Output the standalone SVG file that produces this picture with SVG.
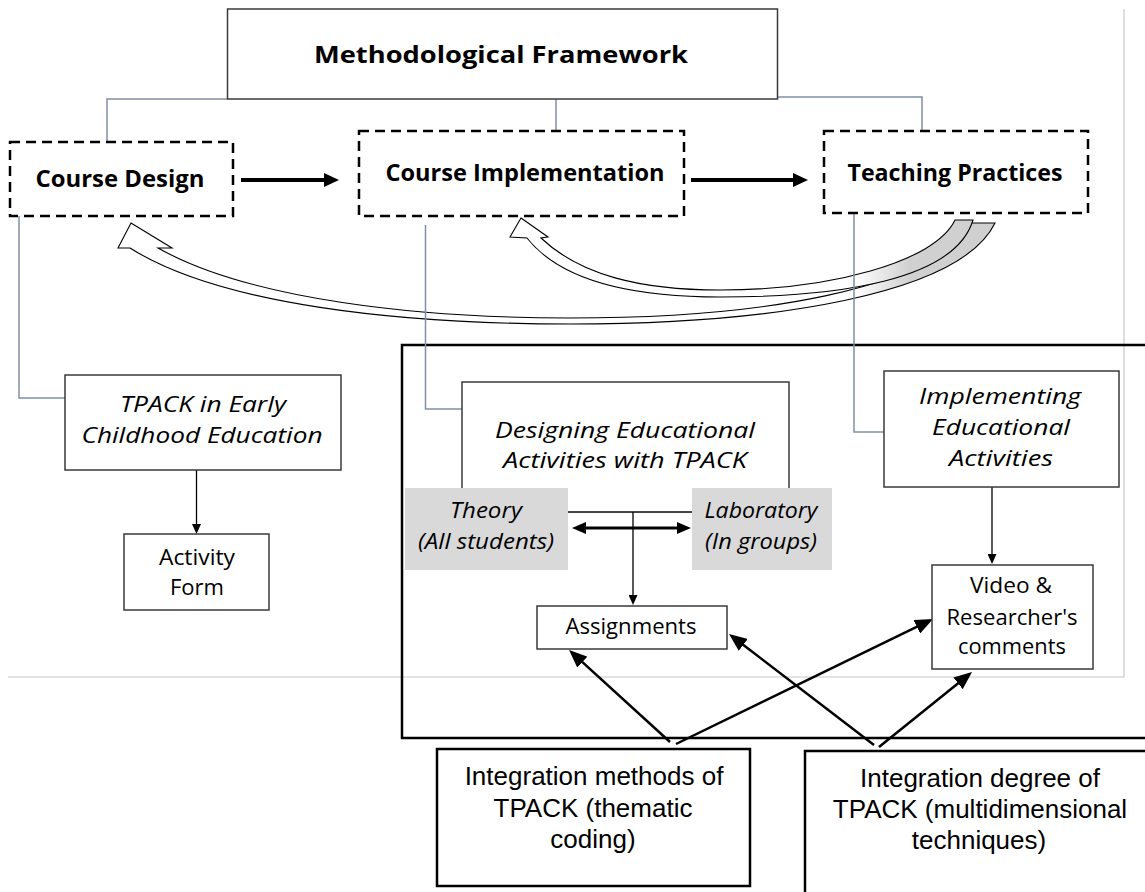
<svg xmlns="http://www.w3.org/2000/svg" width="1145" height="892" viewBox="0 0 1145 892">
<defs>
<style>
.box{fill:#fff;stroke:#3a3a3a;stroke-width:1.5}
.dash{fill:#fff;stroke:#000;stroke-width:2.5;stroke-dasharray:10 6}
.grey{fill:#d9d9d9;stroke:none}
.thick{fill:none;stroke:#000;stroke-width:2.5}
.conn{fill:none;stroke:#8090a8;stroke-width:1.5}
.frame{fill:none;stroke:#c8c8c8;stroke-width:1.2}
.calB{font-family:"Open Sans","Liberation Sans",sans-serif;font-weight:700;font-size:23px;fill:#000;text-anchor:middle}
.calI{font-family:"Open Sans","Liberation Sans",sans-serif;font-style:italic;font-size:21px;fill:#000;text-anchor:middle}
.cal{font-family:"Open Sans","Liberation Sans",sans-serif;font-size:21px;fill:#000;text-anchor:middle}
.ar{font-family:"Liberation Sans",Arial,sans-serif;font-size:26px;fill:#000;text-anchor:middle}
.band{stroke:#000;stroke-width:1.1;fill:url(#bg)}
</style>
<linearGradient id="bg" gradientUnits="userSpaceOnUse" x1="855" y1="0" x2="910" y2="0">
<stop offset="0" stop-color="#fff"/><stop offset="1" stop-color="#d0d0d0"/>
</linearGradient>
<marker id="mThick" markerUnits="userSpaceOnUse" markerWidth="15" markerHeight="14" refX="1" refY="7" orient="auto"><path d="M0,0 L15,7 L0,14 z" fill="#000"/></marker>
<marker id="mMed" markerUnits="userSpaceOnUse" markerWidth="18" markerHeight="15" refX="1" refY="7.5" orient="auto"><path d="M0,0 L18,7.5 L0,15 z" fill="#000"/></marker>
<marker id="mThin" markerUnits="userSpaceOnUse" markerWidth="10" markerHeight="9" refX="1" refY="4.5" orient="auto"><path d="M0,0 L10,4.5 L0,9 z" fill="#000"/></marker>
<marker id="mDbl" markerUnits="userSpaceOnUse" markerWidth="14" markerHeight="12" refX="1" refY="6" orient="auto-start-reverse"><path d="M0,0 L14,6 L0,12 z" fill="#000"/></marker>
</defs>
<rect width="1145" height="892" fill="#fff"/>
<polyline class="frame" points="1124,9 1124,677 8,677"/>

<g id="outer-frame"><path class="thick" d="M1150,345 L402,345 L402,738 L1150,738"/></g>

<g id="curved-feedback">
<path class="band" d="M131,223 L172,248 L158,248 C250,300 420,318 570,318 C760,318 930,290 971,223 L995,223 C960,295 770,324 570,324 C400,324 220,305 130,248 L118,248 Z"/>
<path class="band" d="M521,218 L548,237 L541,238 C580,275 640,290 720,290 C830,290 935,262 955,220 L973,220 C955,280 840,297 720,297 C630,297 560,280 527,238 L510,237 Z"/>
</g>

<g id="connectors">
<polyline class="conn" points="227,99 107,99 107,142"/>
<line class="conn" x1="556" y1="99" x2="556" y2="131"/>
<polyline class="conn" points="778,97 922,97 922,131"/>
<polyline class="conn" points="19,216 19,398 65,398"/>
<polyline class="conn" points="425.5,225 425.5,409 462,409"/>
<polyline class="conn" points="854,213 854,432 884,432"/>
<line x1="241" y1="180" x2="325" y2="180" stroke="#000" stroke-width="4" marker-end="url(#mThick)"/>
<line x1="691" y1="180" x2="794" y2="180" stroke="#000" stroke-width="4" marker-end="url(#mThick)"/>
<line x1="196.5" y1="470" x2="196.5" y2="525" stroke="#000" stroke-width="1.3" marker-end="url(#mThin)"/>
<line x1="992" y1="487" x2="992" y2="555" stroke="#000" stroke-width="1.3" marker-end="url(#mThin)"/>
<line x1="585" y1="528" x2="678" y2="528" stroke="#000" stroke-width="3" marker-start="url(#mDbl)" marker-end="url(#mDbl)"/>
<line x1="670" y1="742" x2="581.6" y2="661.4" stroke="#000" stroke-width="2.5" marker-end="url(#mMed)"/>
<line x1="676" y1="744" x2="917.7" y2="626.4" stroke="#000" stroke-width="2.5" marker-end="url(#mMed)"/>
<line x1="874" y1="745" x2="742.5" y2="644.3" stroke="#000" stroke-width="2.5" marker-end="url(#mMed)"/>
<line x1="879" y1="747" x2="958.8" y2="682.7" stroke="#000" stroke-width="2.5" marker-end="url(#mMed)"/>
</g>

<g id="methodological-framework">
<rect class="box" x="227.5" y="9" width="550" height="90"/>
<text class="calB" x="501" y="63" font-size="24" textLength="374" lengthAdjust="spacingAndGlyphs">Methodological Framework</text>
</g>
<g id="course-design">
<rect class="dash" x="10" y="142" width="223" height="74"/>
<text class="calB" x="120" y="187" textLength="169" lengthAdjust="spacingAndGlyphs">Course  Design</text>
</g>
<g id="course-implementation">
<rect class="dash" x="359" y="131" width="325" height="85"/>
<text class="calB" x="525" y="181" textLength="279" lengthAdjust="spacingAndGlyphs">Course  Implementation</text>
</g>
<g id="teaching-practices">
<rect class="dash" x="824" y="131" width="264" height="82"/>
<text class="calB" x="955" y="181" textLength="215" lengthAdjust="spacingAndGlyphs">Teaching  Practices</text>
</g>
<g id="tpack-ece">
<rect class="box" x="65" y="375" width="276" height="95"/>
<text class="calI" x="203" y="412" textLength="166" lengthAdjust="spacingAndGlyphs">TPACK in Early</text>
<text class="calI" x="202" y="443" textLength="241" lengthAdjust="spacingAndGlyphs">Childhood Education</text>
</g>
<g id="activity-form">
<rect class="box" x="124" y="534" width="145" height="76"/>
<text class="cal" x="197" y="565" textLength="76" lengthAdjust="spacingAndGlyphs">Activity</text>
<text class="cal" x="197" y="595" textLength="54" lengthAdjust="spacingAndGlyphs">Form</text>
</g>
<g id="designing">
<rect class="box" x="462" y="382" width="327" height="130"/>
<text class="calI" x="625" y="438" textLength="260" lengthAdjust="spacingAndGlyphs">Designing Educational</text>
<text class="calI" x="625" y="468" textLength="244" lengthAdjust="spacingAndGlyphs">Activities with TPACK</text>
</g>
<g id="theory">
<rect class="grey" x="405" y="488" width="163" height="82"/>
<text class="calI" x="486" y="518" textLength="72" lengthAdjust="spacingAndGlyphs">Theory</text>
<text class="calI" x="486" y="549" textLength="136" lengthAdjust="spacingAndGlyphs">(All students)</text>
</g>
<g id="laboratory">
<rect class="grey" x="692" y="488" width="140" height="82"/>
<text class="calI" x="761" y="518" textLength="113" lengthAdjust="spacingAndGlyphs">Laboratory</text>
<text class="calI" x="761" y="549" textLength="112" lengthAdjust="spacingAndGlyphs">(In groups)</text>
</g>
<line x1="568" y1="512" x2="692" y2="512" stroke="#3a3a3a" stroke-width="1.5"/>
<line x1="633" y1="512" x2="633" y2="596" stroke="#000" stroke-width="1.3" marker-end="url(#mThin)"/>
<g id="assignments">
<rect class="box" x="537" y="606" width="190" height="43"/>
<text class="cal" x="631" y="634" textLength="131" lengthAdjust="spacingAndGlyphs">Assignments</text>
</g>
<g id="implementing">
<rect class="box" x="884" y="371" width="235" height="116"/>
<text class="calI" x="1000" y="404" textLength="162" lengthAdjust="spacingAndGlyphs">Implementing</text>
<text class="calI" x="1001" y="435" textLength="138" lengthAdjust="spacingAndGlyphs">Educational</text>
<text class="calI" x="1001" y="466" textLength="104" lengthAdjust="spacingAndGlyphs">Activities</text>
</g>
<g id="video">
<rect class="box" x="932" y="565" width="161" height="104"/>
<text class="cal" x="1011" y="593" textLength="82" lengthAdjust="spacingAndGlyphs">Video &amp;</text>
<text class="cal" x="1012" y="625" textLength="131" lengthAdjust="spacingAndGlyphs">Researcher's</text>
<text class="cal" x="1012" y="654" textLength="108" lengthAdjust="spacingAndGlyphs">comments</text>
</g>
<g id="integration-methods">
<rect class="thick" x="437" y="749" width="313" height="137" fill="#fff"/>
<text class="ar" x="594" y="785">Integration methods of</text>
<text class="ar" x="593" y="817">TPACK (thematic</text>
<text class="ar" x="593" y="848">coding)</text>
</g>
<g id="integration-degree">
<rect class="thick" x="805" y="751" width="360" height="160" fill="#fff"/>
<text class="ar" x="980" y="787">Integration degree of</text>
<text class="ar" x="980" y="818">TPACK (multidimensional</text>
<text class="ar" x="979" y="849">techniques)</text>
</g>
</svg>
